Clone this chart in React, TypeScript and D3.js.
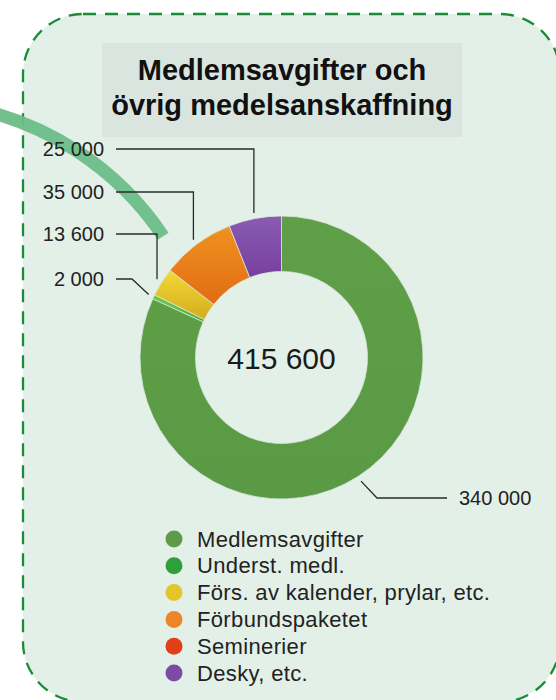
import React from "react";
import * as d3 from "d3";

const categories = [
  "Medlemsavgifter",
  "Underst. medl.",
  "Förs. av kalender, prylar, etc.",
  "Förbundspaketet",
  "Seminerier",
  "Desky, etc.",
];
const values = [340000, 2000, 13600, 35000, 0, 25000];
const sliceColors = ["#5d9d46", "#5cbd3c", "#e6c526", "#e9801b", "#e0401a", "#8050a6"];
const sliceTops = ["#5f9f48", "#6ccc48", "#f2d935", "#ef921f", "#e8501e", "#8a5cb2"];
const sliceBottoms = ["#5a9a44", "#4fae34", "#d4ac1e", "#e26c14", "#d83414", "#773f9e"];
const legendColors = ["#5f9a4b", "#2f9e3c", "#e6c42c", "#eb8628", "#e03f17", "#7d4ba3"];
const titleLines = ["Medlemsavgifter och", "övrig medelsanskaffning"];

// layout of the value labels (per slice index)
const labelLayout: Record<number, { y: number; side: "left" | "right"; elbowX?: number }> = {
  0: { y: 498, side: "right", elbowX: 377 },
  1: { y: 279, side: "left", elbowX: 132 },
  2: { y: 234, side: "left" },
  3: { y: 192, side: "left" },
  5: { y: 149, side: "left" },
};

const W = 556;
const H = 700;
const cx = 281.5;
const cy = 357.5;
const rOuter = 141.5;
const rInner = 86;
const font = "'Liberation Sans', Arial, Helvetica, sans-serif";

const fmt = d3.formatLocale({ decimal: ",", thousands: " ", grouping: [3], currency: ["", ""] }).format(",");

export default function App() {
  const pie = d3.pie<number>().sort(null).value((d) => d);
  const arcs = pie(values);
  const arcGen = d3.arc<d3.PieArcDatum<number>>().innerRadius(rInner).outerRadius(rOuter);
  const total = d3.sum(values);

  // decorative green arc
  const ac = { x: -88, y: 404, r: 302 };
  const a0 = Math.atan2(108 - 404 - 30, -30 + 88);
  const a1 = Math.atan2(236 - 404, 163.5 + 88);
  const p = d3.path();
  p.arc(ac.x, ac.y, ac.r, a0, a1, false);

  const legendY = d3.scalePoint<string>().domain(categories).range([539, 673]);

  return (
    <svg width={W} height={H} style={{ position: "absolute", left: 0, top: 0 }} fontFamily={font}>
      <defs>
        {sliceColors.map((c, i) => (
          <linearGradient key={i} id={`g${i}`} x1="0" y1="0" x2="0" y2="1">
            <stop offset="0" stopColor={sliceTops[i]} />
            <stop offset="1" stopColor={sliceBottoms[i]} />
          </linearGradient>
        ))}
      </defs>
      <rect x={0} y={0} width={W} height={H} fill="#ffffff" />
      <rect
        x={23}
        y={14}
        width={537}
        height={688}
        rx={60}
        ry={60}
        fill="#e3f0e8"
        stroke="#1a8c38"
        strokeWidth={2.3}
        strokeDasharray="13 9"
      />
      {/* title box */}
      <rect x={102} y={43} width={360} height={94} fill="#dbe5e0" />
      {titleLines.map((t, i) => (
        <text
          key={i}
          x={282}
          y={80 + i * 35}
          textAnchor="middle"
          fontWeight="bold"
          fontSize={29}
          fill="#111"
        >
          {t}
        </text>
      ))}
      {/* decorative arc */}
      <path d={p.toString()} fill="none" stroke="#6cbd88" strokeOpacity={0.95} strokeWidth={13} />

      {/* donut */}
      <g transform={`translate(${cx},${cy})`}>
        {arcs.map((a, i) =>
          a.endAngle - a.startAngle > 0 ? (
            <path key={i} d={arcGen(a) || ""} fill={`url(#g${i})`} stroke="#d9e6dc" strokeWidth={0.8} />
          ) : null
        )}
      </g>
      <text x={cx} y={cy + 11} textAnchor="middle" fontSize={30} fill="#1a1a1a">
        {fmt(total)}
      </text>

      {/* leader lines & labels */}
      {arcs.map((a, i) => {
        const L = labelLayout[i];
        if (!L || a.value === 0) return null;
        const mid = (a.startAngle + a.endAngle) / 2;
        const px = cx + 147 * Math.sin(mid);
        const py = cy - 147 * Math.cos(mid);
        const ex = L.elbowX ?? px;
        const endX = L.side === "left" ? 116 : 447;
        const tx = L.side === "left" ? 104 : 459;
        return (
          <g key={i}>
            <path
              d={`M${px},${py}L${ex},${L.y}L${endX},${L.y}`}
              fill="none"
              stroke="#2a2a2a"
              strokeWidth={1.3}
            />
            <text
              x={tx}
              y={L.y + 7}
              textAnchor={L.side === "left" ? "end" : "start"}
              fontSize={20}
              fill="#222"
            >
              {fmt(a.value)}
            </text>
          </g>
        );
      })}

      {/* legend */}
      {categories.map((c, i) => (
        <g key={c}>
          <circle cx={174} cy={legendY(c)!} r={8.5} fill={legendColors[i]} />
          <text x={197} y={legendY(c)! + 7.5} fontSize={22} letterSpacing={0.35} fill="#222">
            {c}
          </text>
        </g>
      ))}
    </svg>
  );
}
